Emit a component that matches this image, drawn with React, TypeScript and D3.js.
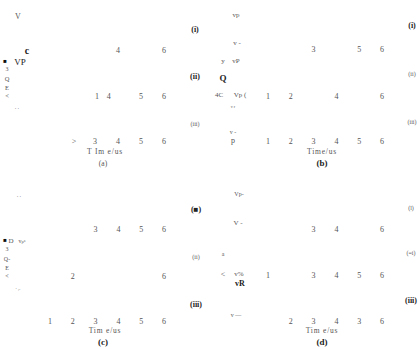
import React from 'react';
import * as d3 from 'd3';

// time axis domain (us)
const timeDomain: [number, number] = [1, 6];

// tick labels: [time position (us), label]
const ticksA1: [number, string][] = [[4, '4'], [6, '6']];
const ticksA2: [number, string][] = [[3.09, '1'], [3.6, '4'], [5, '5'], [6, '6']];
const ticksA3: [number, string][] = [[2.09, '>'], [3, '3'], [4, '4'], [5, '5'], [6, '6']];
const ticksB1: [number, string][] = [[3, '3'], [5, '5'], [6, '6']];
const ticksB2: [number, string][] = [[1, '1'], [2, '2'], [4, '4'], [6, '6']];
const ticksB3: [number, string][] = [[1, '1'], [2, '2'], [3, '3'], [4, '4'], [5, '5'], [6, '6']];
const ticksC1: [number, string][] = [[3, '3'], [4, '4'], [5, '5'], [6, '6']];
const ticksC2: [number, string][] = [[2, '2'], [6, '6']];
const ticksC3: [number, string][] = [[1, '1'], [2, '2'], [3, '3'], [4, '4'], [5, '5'], [6, '6']];
const ticksD1: [number, string][] = [[3, '3'], [4, '4'], [6, '6']];
const ticksD2: [number, string][] = [[1, '1'], [3, '3'], [4, '4'], [5, '5'], [6, '6']];
const ticksD3: [number, string][] = [[2, '2'], [3, '3'], [4, '4'], [5, '3'], [6, '6']];

const axisTitle = 'T Im e/us';
const axisTitleB = 'Time/us';
const axisTitleCD = 'Tim e/us';
const panelLabels = ['(a)', '(b)', '(c)', '(d)'];
const rowLabelsA = ['(i)', '(ii)', '(iii)'];
const rowLabelsB = ['(i)', '(ii)', '(iii)'];
const rowLabelsC = ['(■)', '(ii)', '(iii)'];
const rowLabelsD = ['(l)', '(=i)', '(iii)'];

const FONT = '"Liberation Serif", "DejaVu Serif", serif';
const GREY = '#555';

type Ann = { x: number; y: number; t: string; s?: number; w?: string; c?: string };

const annA: Ann[] = [
  { x: 18, y: 16, t: 'V', s: 8 },
  { x: 27, y: 50, t: 'c', s: 10, w: 'bold', c: '#222' },
  { x: 5, y: 61, t: '■', s: 6, c: '#111' },
  { x: 20, y: 62, t: 'VP', s: 9, c: '#222' },
  { x: 7, y: 69, t: '3', s: 6 },
  { x: 7, y: 79, t: 'Q', s: 6.5 },
  { x: 7, y: 87.5, t: 'E', s: 6.5 },
  { x: 7, y: 96, t: '<', s: 6.5 },
  { x: 17, y: 109, t: '\u02BB \u02BB', s: 5 },
];
const annB: Ann[] = [
  { x: 236, y: 15, t: 'vp', s: 7 },
  { x: 237, y: 43, t: 'v -', s: 7 },
  { x: 223, y: 61, t: 'y', s: 7 },
  { x: 236, y: 61, t: 'vP', s: 7 },
  { x: 223, y: 78, t: 'Q', s: 9, w: 'bold', c: '#222' },
  { x: 219, y: 95, t: '4C', s: 7 },
  { x: 240, y: 95, t: 'Vp (', s: 7 },
  { x: 233, y: 107, t: 'v r', s: 4 },
  { x: 233, y: 132, t: 'v -', s: 6 },
  { x: 233, y: 140, t: 'p', s: 8 },
];
const annC: Ann[] = [
  { x: 19, y: 197, t: '\u02BB \u02BB', s: 5 },
  { x: 5, y: 240, t: '■', s: 6, c: '#111' },
  { x: 11, y: 241, t: 'D', s: 7 },
  { x: 22, y: 241, t: 'v\u209a\u1d43', s: 6 },
  { x: 7, y: 249, t: '3', s: 6 },
  { x: 7, y: 259, t: 'Q-', s: 6 },
  { x: 7, y: 267.5, t: 'E', s: 6 },
  { x: 7, y: 276, t: '<', s: 6 },
  { x: 18, y: 290, t: '\u02BB :-', s: 4 },
];
const annD: Ann[] = [
  { x: 239, y: 194, t: 'Vp-', s: 6 },
  { x: 238, y: 223, t: 'V -', s: 7 },
  { x: 223, y: 254, t: 'a', s: 6 },
  { x: 223, y: 274, t: '<', s: 8 },
  { x: 239, y: 274, t: 'v%', s: 7 },
  { x: 240, y: 283, t: 'vR', s: 8, w: 'bold', c: '#222' },
  { x: 236, y: 315, t: 'v \u2014', s: 6 },
];

type Panel = {
  x0: number; x1: number; rows: [number, string][][]; rowY: number[];
  rowLabels: string[]; rowLabelX: number; rowLabelY: number[]; rowLabelBold: boolean[];
  title: string; titleX: number; titleY: number; label: string; labelY: number; labelBold: boolean;
  ann: Ann[];
};

const panels: Panel[] = [
  { x0: 49, x1: 164, rows: [ticksA1, ticksA2, ticksA3], rowY: [50, 96, 141],
    rowLabels: rowLabelsA, rowLabelX: 195, rowLabelY: [29, 76, 124], rowLabelBold: [true, true, false],
    title: axisTitle, titleX: 105, titleY: 151, label: panelLabels[0], labelY: 163, labelBold: false, ann: annA },
  { x0: 268, x1: 382, rows: [ticksB1, ticksB2, ticksB3], rowY: [49, 96, 141],
    rowLabels: rowLabelsB, rowLabelX: 412, rowLabelY: [25, 74, 122], rowLabelBold: [true, false, false],
    title: axisTitleB, titleX: 322, titleY: 151, label: panelLabels[1], labelY: 163, labelBold: true, ann: annB },
  { x0: 50, x1: 164, rows: [ticksC1, ticksC2, ticksC3], rowY: [229, 276, 321],
    rowLabels: rowLabelsC, rowLabelX: 196, rowLabelY: [209, 257, 304], rowLabelBold: [true, false, true],
    title: axisTitleCD, titleX: 105, titleY: 330, label: panelLabels[2], labelY: 342, labelBold: true, ann: annC },
  { x0: 268, x1: 382, rows: [ticksD1, ticksD2, ticksD3], rowY: [229, 275, 321],
    rowLabels: rowLabelsD, rowLabelX: 411, rowLabelY: [208, 253, 300], rowLabelBold: [false, false, true],
    title: axisTitleCD, titleX: 322, titleY: 330, label: panelLabels[3], labelY: 342, labelBold: true, ann: annD },
];

export default function App() {
  return (
    <svg width={419} height={349} style={{ position: 'absolute', left: 0, top: 0, background: '#fff' }}
      fontFamily={FONT}>
      <rect width={419} height={349} fill="#fff" />
      {panels.map((p, pi) => {
        const x = d3.scaleLinear().domain(timeDomain).range([p.x0, p.x1]);
        return (
          <g key={pi}>
            {p.rows.map((row, ri) => (
              <g key={ri}>
                {row.map(([v, lab], ti) => (
                  <text key={ti} x={x(v)} y={p.rowY[ri]} dy="0.35em" textAnchor="middle"
                    fontSize={8} fill={GREY}>{lab}</text>
                ))}
              </g>
            ))}
            {p.rowLabels.map((lab, ri) => (
              <text key={'r' + ri} x={p.rowLabelX} y={p.rowLabelY[ri]} dy="0.35em" textAnchor="middle"
                fontSize={p.rowLabelBold[ri] ? 8 : 6} fontWeight={p.rowLabelBold[ri] ? 'bold' : 'normal'}
                fill={p.rowLabelBold[ri] ? '#222' : GREY}>{lab}</text>
            ))}
            <text x={p.titleX} y={p.titleY} dy="0.35em" textAnchor="middle" fontSize={7.5}
              letterSpacing={0.8} fill={GREY}>{p.title}</text>
            <text x={p.titleX - (pi % 2 === 0 ? 2 : 0)} y={p.labelY} dy="0.35em" textAnchor="middle"
              fontSize={p.labelBold ? 9 : 7.5} fontWeight={p.labelBold ? 'bold' : 'normal'}
              fill={p.labelBold ? '#222' : GREY}>{p.label}</text>
            {p.ann.map((a, ai) => (
              <text key={'a' + ai} x={a.x} y={a.y} dy="0.35em" textAnchor="middle"
                fontSize={a.s ?? 8} fontWeight={a.w ?? 'normal'} fill={a.c ?? GREY}>{a.t}</text>
            ))}
          </g>
        );
      })}
    </svg>
  );
}
